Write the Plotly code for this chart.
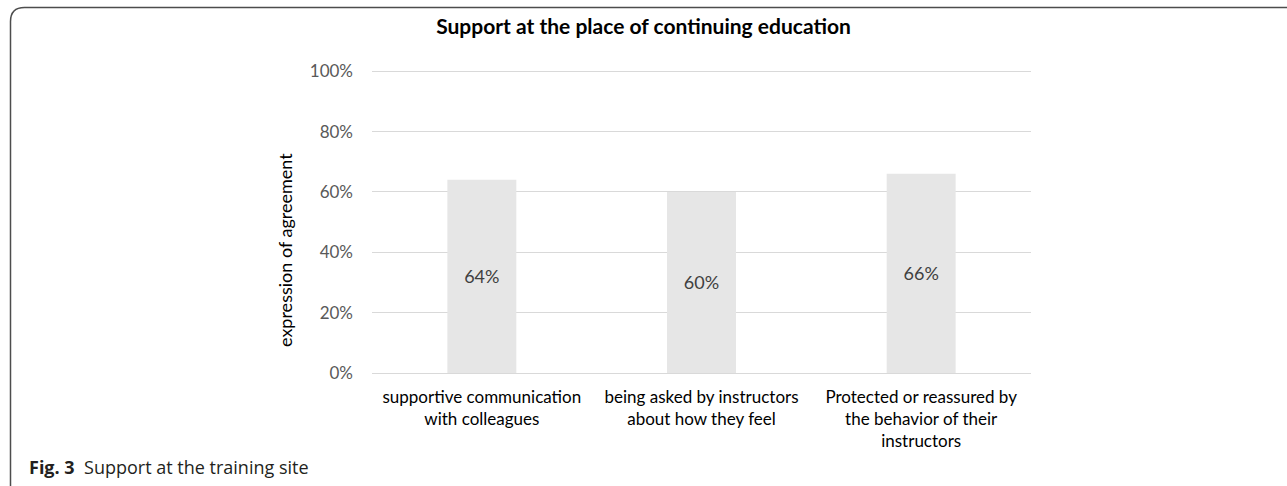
import plotly.graph_objects as go

categories = [
    "supportive communication<br>with colleagues",
    "being asked by instructors<br>about how they feel",
    "Protected or reassured by<br>the behavior of their<br>instructors",
]
values = [64, 60, 66]
value_labels = ["64%", "60%", "66%"]
y_ticks = [0, 20, 40, 60, 80, 100]
y_tick_labels = ["0%", "20%", "40%", "60%", "80%", "100%"]

W, H = 1287, 486
L, R, T, B = 372, 1031, 70, 373


def xp(px):
    return (px - L) / (R - L)


def yp(py):
    return (B - py) / (B - T)


fig = go.Figure()
fig.add_trace(go.Bar(
    x=categories,
    y=values,
    text=value_labels,
    textposition="inside",
    insidetextanchor="middle",
    textfont=dict(family="Lato, Open Sans, sans-serif", size=18, color="#404040"),
    marker=dict(color="#e6e6e6", line=dict(width=0)),
    hoverinfo="skip",
))

fig.update_layout(
    width=W, height=H, autosize=False,
    margin=dict(l=L, r=W - R, t=T, b=H - B, pad=0),
    paper_bgcolor="white", plot_bgcolor="white",
    bargap=0.686,
    showlegend=False,
    font=dict(family="Lato, Open Sans, sans-serif"),
    title=dict(
        text="<b>Support at the place of continuing education</b>",
        x=0.5, xref="container", xanchor="center",
        y=1 - 27 / H, yref="container", yanchor="middle",
        font=dict(family="Lato, Open Sans, sans-serif", size=21, color="#000000"),
    ),
)

fig.update_yaxes(
    range=[0, 100.4],
    tickvals=y_ticks, ticktext=y_tick_labels,
    showgrid=True, gridcolor="#d9d9d9", gridwidth=1,
    zeroline=True, zerolinecolor="#d9d9d9", zerolinewidth=1,
    showline=False, ticks="",
    tickfont=dict(family="Lato, Open Sans, sans-serif", size=17, color="#595959"),
    ticklabelstandoff=18,
    fixedrange=True,
)
fig.update_xaxes(
    showgrid=False, showline=False, ticks="",
    tickfont=dict(family="Lato, Open Sans, sans-serif", size=17, color="#000000"),
    tickangle=0,
    ticklabelstandoff=12,
    fixedrange=True,
)

# y-axis title
fig.add_annotation(
    text="expression of agreement",
    x=xp(285), y=yp(250), xref="paper", yref="paper",
    textangle=-90, showarrow=False,
    xanchor="center", yanchor="middle",
    font=dict(family="Lato, Open Sans, sans-serif", size=18, color="#000000"),
)

# caption
fig.add_annotation(
    text="<b>Fig. 3</b>  Support at the training site",
    x=xp(27), y=yp(467), xref="paper", yref="paper",
    showarrow=False, xanchor="left", yanchor="middle",
    font=dict(family="Open Sans, sans-serif", size=18, color="#231f20"),
)

# frame (top + left edges with rounded corner)
x0, y0, x1, r = xp(10.5), yp(7.5), xp(W + 5), 14
path = (
    f"M {x0} {yp(H + 5)} L {x0} {yp(7.5 + r)} "
    f"Q {x0} {y0} {xp(10.5 + r)} {y0} L {x1} {y0}"
)
fig.add_shape(type="path", path=path, xref="paper", yref="paper",
              line=dict(color="#4d4d4d", width=1.5), layer="above")

fig.write_html("out.html")
